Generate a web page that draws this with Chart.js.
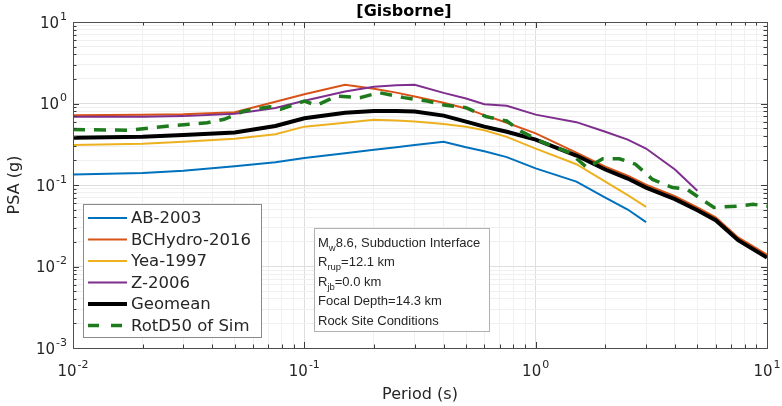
<!DOCTYPE html>
<html>
<head>
<meta charset="utf-8">
<script src="https://cdn.jsdelivr.net/npm/chart.js@4.4.1/dist/chart.umd.min.js"></script>
<style>
  html, body { margin: 0; padding: 0; background: #fff; }
</style>
</head>
<body>
<canvas id="psa" width="782" height="406"></canvas>
<script>
// periods (s) where the GMPE curves are given
const gmpePeriods = [0.01, 0.02, 0.03, 0.05, 0.075, 0.1, 0.15, 0.2, 0.25, 0.3, 0.4, 0.5, 0.6, 0.75, 1, 1.5, 2, 2.5, 3, 4, 5, 6, 7.5, 10]

// PSA (g) for each model, null where the model has no value
const ab2003 = [0.135, 0.14, 0.15, 0.17, 0.19, 0.215, 0.245, 0.27, 0.29, 0.31, 0.34, 0.29, 0.26, 0.22, 0.16, 0.11, 0.07, 0.05, 0.035, null, null, null, null, null]
const bchydro2016 = [0.72, 0.73, 0.74, 0.78, 1.05, 1.3, 1.7, 1.52, 1.36, 1.22, 1.02, 0.87, 0.72, 0.58, 0.43, 0.25, 0.168, 0.13, 0.101, 0.073, 0.053, 0.04, 0.0227, 0.014]
const yea1997 = [0.31, 0.32, 0.34, 0.37, 0.42, 0.52, 0.58, 0.63, 0.62, 0.6, 0.56, 0.52, 0.47, 0.39, 0.28, 0.18, 0.11, 0.075, 0.054, null, null, null, null, null]
const z2006 = [0.69, 0.69, 0.7, 0.75, 0.88, 1.08, 1.4, 1.6, 1.68, 1.7, 1.35, 1.15, 0.98, 0.94, 0.73, 0.59, 0.45, 0.36, 0.28, 0.155, 0.085, null, null, null]
const geomean = [0.38, 0.39, 0.41, 0.44, 0.53, 0.66, 0.77, 0.81, 0.81, 0.8, 0.71, 0.6, 0.52, 0.45, 0.36, 0.23, 0.155, 0.12, 0.093, 0.067, 0.049, 0.037, 0.021, 0.0129]

// simulated RotD50
const simPeriods = [0.01, 0.0175, 0.026, 0.038, 0.045, 0.055, 0.071, 0.079, 0.1, 0.113, 0.138, 0.174, 0.21, 0.27, 0.34, 0.4, 0.5, 0.61, 0.75, 0.86, 0.98, 1.08, 1.4, 1.67, 1.95, 2.3, 2.7, 3.2, 3.9, 4.5, 5.2, 5.9, 7.4, 8.7, 10]
const simRotD50 = [0.48, 0.47, 0.53, 0.58, 0.64, 0.81, 0.91, 0.85, 1.07, 0.95, 1.23, 1.18, 1.36, 1.18, 1.07, 0.96, 0.89, 0.69, 0.61, 0.46, 0.38, 0.33, 0.25, 0.163, 0.21, 0.21, 0.18, 0.117, 0.093, 0.089, 0.067, 0.053, 0.055, 0.058, 0.055]

const xDecades = [-2, -1, 0, 1]
const yDecades = [-3, -2, -1, 0, 1]

const title = '[Gisborne]'
const xTitle = 'Period (s)'
const yTitle = 'PSA (g)'

const FONT = '"DejaVu Sans", sans-serif'
const NOTE_FONT = '"Liberation Sans", Arial, sans-serif'

function points(xs, ys) {
    const out = []
    for (let i = 0; i < xs.length; i++) {
        if (ys[i] !== null) out.push({ x: xs[i], y: ys[i] })
    }
    return out
}

function logTicks(fromExp, toExp) {
    const ticks = []
    for (let e = fromExp; e < toExp; e++) {
        for (let s = 1; s < 10; s++) ticks.push({ value: s * Math.pow(10, e) })
    }
    ticks.push({ value: Math.pow(10, toExp) })
    return ticks
}

function isDecade(v) {
    const l = Math.log10(v)
    return Math.abs(l - Math.round(l)) < 1e-6
}

function line(label, xs, ys, color, width, order, dash) {
    return {
        label: label,
        data: points(xs, ys),
        borderColor: color,
        backgroundColor: color,
        borderWidth: width,
        borderDash: dash || [],
        pointRadius: 0,
        tension: 0,
        order: order
    }
}

function drawPower(ctx, exp, x, y, align) {
    ctx.font = '15px ' + FONT
    const wb = ctx.measureText('10').width
    ctx.font = '11px ' + FONT
    const we = ctx.measureText(exp).width
    const total = wb + we + 1
    const left = align === 'right' ? x - total : x - total / 2
    ctx.textAlign = 'left'
    ctx.textBaseline = 'middle'
    ctx.font = '15px ' + FONT
    ctx.fillText('10', left, y)
    ctx.font = '11px ' + FONT
    ctx.fillText(exp, left + wb + 1, y - 7)
}

// MATLAB-like axes decoration: box, inward ticks, labels, legend and note box
const matlabAxes = {
    id: 'matlabAxes',
    afterDraw(chart) {
        const ctx = chart.ctx
        const area = chart.chartArea
        const xs = chart.scales.x
        const ys = chart.scales.y
        ctx.save()

        // inward tick marks
        ctx.strokeStyle = '#3a3a3a'
        ctx.lineWidth = 1
        ctx.beginPath()
        xs.ticks.forEach(t => {
            const px = Math.round(xs.getPixelForValue(t.value)) + 0.5
            const len = isDecade(t.value) ? 6 : 3.5
            ctx.moveTo(px, area.bottom); ctx.lineTo(px, area.bottom - len)
            ctx.moveTo(px, area.top); ctx.lineTo(px, area.top + len)
        })
        ys.ticks.forEach(t => {
            const py = Math.round(ys.getPixelForValue(t.value)) + 0.5
            const len = isDecade(t.value) ? 6 : 3.5
            ctx.moveTo(area.left, py); ctx.lineTo(area.left + len, py)
            ctx.moveTo(area.right, py); ctx.lineTo(area.right - len, py)
        })
        ctx.stroke()

        // axes box
        ctx.strokeStyle = '#4d4d4d'
        ctx.strokeRect(Math.round(area.left) + 0.5, Math.round(area.top) + 0.5,
            Math.round(area.right - area.left), Math.round(area.bottom - area.top))

        // tick labels
        ctx.fillStyle = '#262626'
        xDecades.forEach(e => {
            drawPower(ctx, String(e), xs.getPixelForValue(Math.pow(10, e)), area.bottom + 24, 'center')
        })
        yDecades.forEach(e => {
            drawPower(ctx, String(e), area.left - 6, ys.getPixelForValue(Math.pow(10, e)) + 2, 'right')
        })

        // titles
        ctx.textAlign = 'center'
        ctx.textBaseline = 'middle'
        ctx.fillStyle = '#000'
        ctx.font = 'bold 16px ' + FONT
        ctx.fillText(title, 404, 12)
        ctx.fillStyle = '#262626'
        ctx.font = '16px ' + FONT
        ctx.fillText(xTitle, (area.left + area.right) / 2, 395)
        ctx.save()
        ctx.translate(15, (area.top + area.bottom) / 2)
        ctx.rotate(-Math.PI / 2)
        ctx.fillText(yTitle, 0, 0)
        ctx.restore()

        // legend
        const lg = { x: 83, y: 204, w: 178, h: 133 }
        ctx.fillStyle = '#fff'
        ctx.fillRect(lg.x, lg.y, lg.w, lg.h)
        ctx.strokeStyle = '#8a8a8a'
        ctx.strokeRect(lg.x + 0.5, lg.y + 0.5, lg.w, lg.h)
        ctx.font = '16.5px ' + FONT
        ctx.textAlign = 'left'
        ctx.textBaseline = 'middle'
        chart.data.datasets.forEach((ds, i) => {
            const ry = lg.y + 14 + i * 21.5
            ctx.strokeStyle = ds.borderColor
            ctx.lineWidth = ds.borderWidth
            ctx.setLineDash(ds.borderDash.length ? [11, 12] : [])
            ctx.beginPath()
            ctx.moveTo(88, ry)
            ctx.lineTo(127, ry)
            ctx.stroke()
            ctx.setLineDash([])
            ctx.fillStyle = '#262626'
            ctx.fillText(ds.label, 131, ry + 1)
        })

        // note box
        const nb = { x: 314, y: 228, w: 175, h: 103 }
        ctx.fillStyle = '#fff'
        ctx.fillRect(nb.x, nb.y, nb.w, nb.h)
        ctx.strokeStyle = '#b0b0b0'
        ctx.lineWidth = 1
        ctx.strokeRect(nb.x + 0.5, nb.y + 0.5, nb.w, nb.h)
        const notes = [
            [['M', ''], ['w', 'sub'], ['8.6, Subduction Interface', '']],
            [['R', ''], ['rup', 'sub'], ['=12.1 km', '']],
            [['R', ''], ['jb', 'sub'], ['=0.0 km', '']],
            [['Focal Depth=14.3 km', '']],
            [['Rock Site Conditions', '']]
        ]
        ctx.fillStyle = '#262626'
        notes.forEach((parts, i) => {
            let px = nb.x + 4
            const py = nb.y + 15 + i * 19.5
            parts.forEach(([txt, kind]) => {
                if (kind === 'sub') {
                    ctx.font = '9.5px ' + NOTE_FONT
                    ctx.fillText(txt, px, py + 5)
                } else {
                    ctx.font = '13px ' + NOTE_FONT
                    ctx.fillText(txt, px, py)
                }
                px += ctx.measureText(txt).width
            })
        })
        ctx.restore()
    }
}

const datasets = [
    line('AB-2003', gmpePeriods, ab2003, '#0072BD', 2, 5),
    line('BCHydro-2016', gmpePeriods, bchydro2016, '#D95319', 2, 4),
    line('Yea-1997', gmpePeriods, yea1997, '#EDB120', 2, 3),
    line('Z-2006', gmpePeriods, z2006, '#7E2F8E', 2, 2),
    line('Geomean', gmpePeriods, geomean, '#000000', 4, 1),
    line('RotD50 of Sim', simPeriods, simRotD50, '#1d7a1d', 3.5, 0, [12, 9])
]

function gridColor(c) {
    if (!c.tick) return '#e0e0e0'
    return isDecade(c.tick.value) ? '#dedede' : '#f0f0f0'
}

new Chart(document.getElementById('psa').getContext('2d'), {
    type: 'line',
    data: { datasets: datasets },
    plugins: [matlabAxes],
    options: {
        responsive: false,
        animation: false,
        devicePixelRatio: 1,
        layout: { padding: { left: 73, right: 15, top: 22, bottom: 58 } },
        plugins: { legend: { display: false }, tooltip: { enabled: false }, title: { display: false } },
        scales: {
            x: {
                type: 'logarithmic',
                min: 0.01,
                max: 10,
                afterBuildTicks: s => { s.ticks = logTicks(-2, 1) },
                ticks: { display: false },
                border: { display: false },
                grid: { color: gridColor, drawTicks: false, lineWidth: 1 }
            },
            y: {
                type: 'logarithmic',
                min: 0.001,
                max: 10,
                afterBuildTicks: s => { s.ticks = logTicks(-3, 1) },
                ticks: { display: false },
                border: { display: false },
                grid: { color: gridColor, drawTicks: false, lineWidth: 1 }
            }
        }
    }
})
</script>
</body>
</html>
